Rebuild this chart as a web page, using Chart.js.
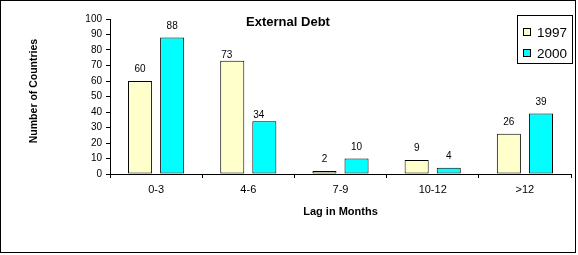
<!DOCTYPE html>
<html>
<head>
  <title>External Debt</title>
  <script src="https://cdn.jsdelivr.net/npm/chart.js@4.4.0/dist/chart.umd.min.js"></script>
  <style>
    html, body { margin: 0; padding: 0; background: #fff; }
  </style>
</head>
<body>
<canvas id="debtChart" width="578" height="255"></canvas>

<script>
var lags = ["0-3", "4-6", "7-9", "10-12", ">12"]
var years = ["1997", "2000"]
var counts1997 = [60, 73, 2, 9, 26]
var counts2000 = [88, 34, 10, 4, 39]
var yMin = 0, yMax = 100, yStep = 10

var FONT = "'Liberation Sans', Arial, sans-serif"

//Draws the frame, title, axis titles, legend box and value labels
var extras = {
  id: "extras",
  afterDraw: function(chart){
    var ctx = chart.ctx
    var area = chart.chartArea
    ctx.save()
    ctx.fillStyle = "#000"
    ctx.strokeStyle = "#000"
    ctx.lineWidth = 1

    //value labels
    ctx.font = "10px " + FONT
    ctx.textBaseline = "alphabetic"
    chart.data.datasets.forEach(function(ds, i){
      chart.getDatasetMeta(i).data.forEach(function(bar, j){
        var txt = String(ds.data[j])
        if(j == 1){ //excel tucked these ones right onto the bar tops
          ctx.textAlign = "left"
          ctx.fillText(txt, bar.x - bar.width/2 + 1, bar.y - 3)
        }
        else{
          ctx.textAlign = "center"
          ctx.fillText(txt, bar.x, bar.y - 9)
        }
      })
    })

    //title
    ctx.font = "bold 13px " + FONT
    ctx.textAlign = "center"
    ctx.fillText("External Debt", 288, 26)

    //x title
    ctx.font = "bold 11px " + FONT
    ctx.fillText("Lag in Months", (area.left + area.right)/2, 215)

    //y title
    ctx.save()
    ctx.translate(36.5, 91)
    ctx.rotate(-Math.PI/2)
    ctx.font = "bold 10.5px " + FONT
    ctx.fillText("Number of Countries", 0, 0)
    ctx.restore()

    //legend
    ctx.strokeRect(517.5, 15.5, 55, 48)
    ctx.font = "13.5px " + FONT
    ctx.textAlign = "left"
    chart.data.datasets.forEach(function(ds, i){
      var y = 28.5 + i*21
      ctx.fillStyle = ds.backgroundColor
      ctx.fillRect(523.5, y, 7, 7)
      ctx.strokeRect(523.5, y, 7, 7)
      ctx.fillStyle = "#000"
      ctx.fillText(ds.label, 537, y + 8.5)
    })

    //outer frame
    ctx.strokeRect(0.5, 0.5, 575, 252)
    ctx.restore()
  }
}

var debtChart = new Chart(document.getElementById("debtChart").getContext("2d"), {
  type: "bar",
  data: {
    labels: lags,
    datasets: [{
      label: years[0],
      data: counts1997,
      backgroundColor: "#FFFFCC",
      borderColor: "#000",
      borderWidth: 1,
      borderSkipped: false
    }, {
      label: years[1],
      data: counts2000,
      backgroundColor: "#00FFFF",
      borderColor: "#000",
      borderWidth: 1,
      borderSkipped: false
    }]
  },
  options: {
    responsive: false,
    animation: false,
    devicePixelRatio: 1,
    categoryPercentage: 0.696,
    barPercentage: 0.75,
    layout: { padding: { left: 0, top: 19, right: 7, bottom: 0 } },
    plugins: {
      legend: { display: false },
      title: { display: false },
      tooltip: { enabled: false }
    },
    scales: {
      x: {
        afterFit: function(scale){ scale.height = 81 },
        grid: { offset: true, drawOnChartArea: false, drawTicks: true, tickLength: 4, color: "#000" },
        border: { display: true, color: "#000", width: 1 },
        ticks: { color: "#000", font: { family: FONT, size: 11 }, padding: 5, maxRotation: 0 }
      },
      y: {
        min: yMin,
        max: yMax,
        afterFit: function(scale){ scale.width = 110 },
        grid: { drawOnChartArea: false, drawTicks: true, tickLength: 4, color: "#000" },
        border: { display: true, color: "#000", width: 1 },
        ticks: { stepSize: yStep, color: "#000", font: { family: FONT, size: 10 }, padding: 4 }
      }
    }
  },
  plugins: [extras]
})
</script>
</body>
</html>
